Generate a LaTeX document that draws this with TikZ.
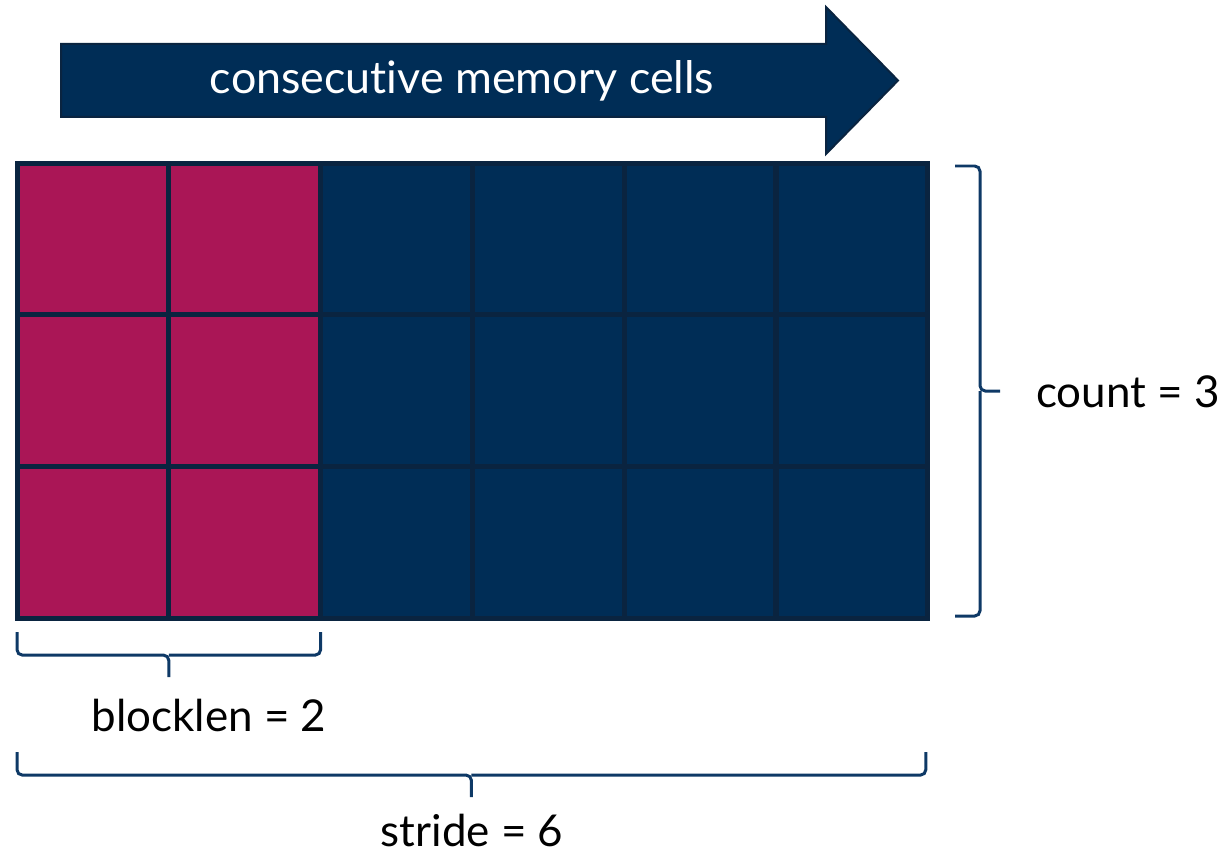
\documentclass[tikz,border=0pt]{standalone}
\usepackage{fontspec}
\setmainfont{Lato}[Ligatures=NoCommon]
\usetikzlibrary{calc}
\definecolor{navy}{HTML}{002D56}
\definecolor{navyline}{HTML}{0A2440}
\definecolor{berry}{HTML}{AA1656}
\definecolor{braceblue}{HTML}{0E3966}
\tikzset{
    cell/.style={draw=navyline,line width=0.1cm,minimum width=3.036cm,minimum height=3.034cm,inner sep=0pt,outer sep=0pt},
    braceline/.style={draw=braceblue,line width=0.06cm,rounded corners=3pt},
    label/.style={font=\fontsize{25}{30}\selectfont,inner sep=0pt}
}
\begin{document}
\begin{tikzpicture}[x=0.02cm,y=-0.02cm]
        % Fix page size
        \useasboundingbox (0,0) rectangle (1224,855);
        % Draw arrow for memory direction
        \draw[fill=navy,draw=navyline,line width=0.04cm] (61,44) -- (826,44) -- (826,7) -- (898,80.5) -- (826,154) -- (826,117) -- (61,117) -- cycle;
        \node[text=white,font=\fontsize{25.5}{30}\selectfont,inner sep=0pt] (arrowtext) at (462,80.5) {consecutive memory cells};
        % Draw grid of cells
        \foreach \r in {0,1,2}
            \foreach \c in {0,...,5} {
                \ifnum\c<2 \def\cellcolor{berry}\else\def\cellcolor{navy}\fi
                \node[cell,fill=\cellcolor] (cell-\r-\c) at ({17+151.8*(\c+0.5)},{163+151.7*(\r+0.5)}) {};
            }
        % Draw brace for count
        \coordinate (ct-top) at (955,166);
        \coordinate (ct-bot) at (955,616);
        \coordinate (ct-mid) at ($(ct-top)!0.5!(ct-bot)$);
        \draw[braceline] (ct-top) -- ++(25,0) -- ($(ct-mid)+(25,0)$) -- ++(20,0);
        \draw[braceline] ($(ct-mid)+(25,0)$) -- ($(ct-bot)+(25,0)$) -- (ct-bot);
        \node[label,anchor=west] (count) at (1036,392) {count = 3};
        % Draw brace for blocklen
        \coordinate (bl-left) at ($(cell-2-0.south west)+(0,14)$);
        \coordinate (bl-right) at ($(cell-2-1.south east)+(0,14)$);
        \coordinate (bl-mid) at ($(bl-left)!0.5!(bl-right)$);
        \draw[braceline] (bl-left) -- ++(0,23) -- ($(bl-mid)+(0,23)$) -- ++(0,22);
        \draw[braceline] ($(bl-mid)+(0,23)$) -- ($(bl-right)+(0,23)$) -- (bl-right);
        \node[label] (blocklen) at (209,715) {blocklen = 2};
        % Draw brace for stride
        \coordinate (st-left) at ($(cell-2-0.south west)+(0,134)$);
        \coordinate (st-right) at ($(cell-2-5.south east)+(-2,134)$);
        \coordinate (st-mid) at ($(st-left)!0.5!(st-right)$);
        \draw[braceline] (st-left) -- ++(0,23) -- ($(st-mid)+(0,23)$) -- ++(0,22);
        \draw[braceline] ($(st-mid)+(0,23)$) -- ($(st-right)+(0,23)$) -- (st-right);
        \node[label] (stride) at (472,830) {stride = 6};
    \end{tikzpicture}
\end{document}
